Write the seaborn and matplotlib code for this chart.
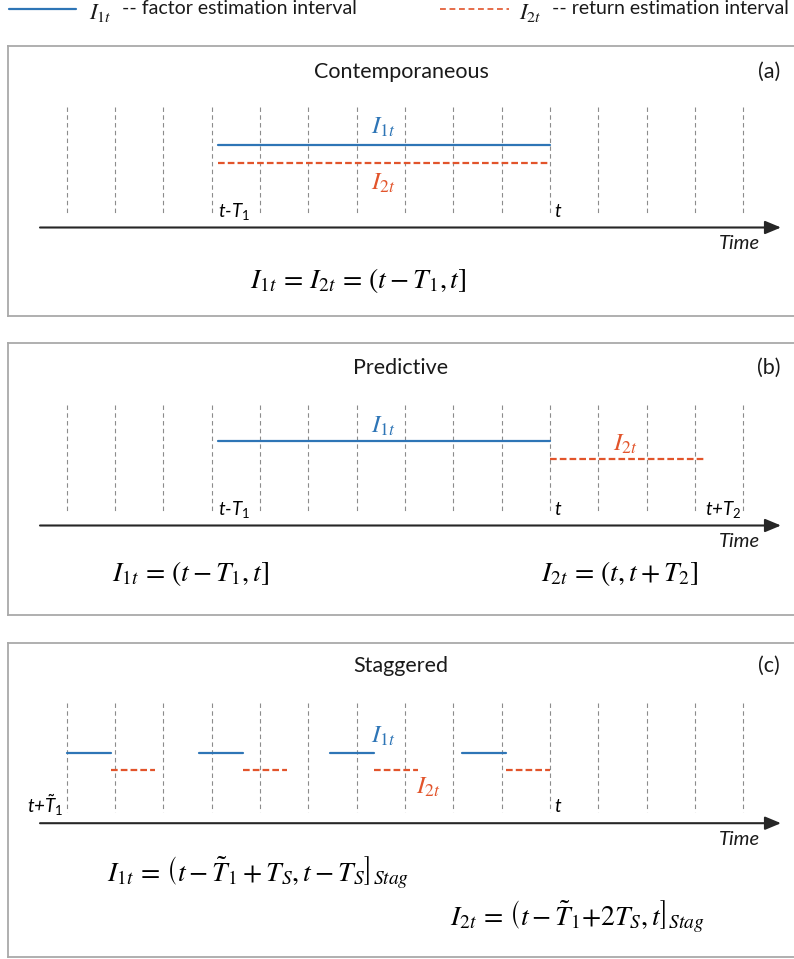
import matplotlib
matplotlib.use("Agg")
import matplotlib.pyplot as plt
import pandas as pd
import seaborn as sns

# ---------------- data ----------------
time_steps = list(range(15))                 # discrete periods (grid)
contemp_factor = [3.14, 10.0]                # I1t in (a)
contemp_return = [3.14, 10.0]                # I2t in (a)
pred_factor = [3.14, 10.0]                   # I1t in (b)
pred_return = [10.0, 13.23]                  # I2t in (b)
stag_factor_start = [0.0, 2.73, 5.45, 8.18]  # I1t pieces in (c)
stag_factor_end = [0.91, 3.64, 6.36, 9.09]
stag_return_start = [0.91, 3.64, 6.36, 9.09] # I2t pieces in (c)
stag_return_end = [1.82, 4.55, 7.27, 10.0]

panel_titles = ["Contemporaneous", "Predictive", "Staggered"]
panel_tags = ["(a)", "(b)", "(c)"]
legend_symbols = [r"$I_{1t}$", r"$I_{2t}$"]
legend_labels = ["-- factor estimation interval", "-- return estimation interval"]

# ---------------- style ----------------
sns.set_theme(style="white")
plt.rcParams["font.family"] = ["Lato", "DejaVu Sans"]
plt.rcParams["mathtext.fontset"] = "custom"
plt.rcParams["mathtext.rm"] = "Lato"
plt.rcParams["mathtext.it"] = "Lato:italic"
plt.rcParams["mathtext.bf"] = "Lato:bold"
plt.rcParams["mathtext.sf"] = "Lato"
plt.rcParams["mathtext.fallback"] = "stixsans"

BLUE = "#2e75b6"
ORANGE = "#e2542b"
GRID = "#8c8c8c"
AXIS = "#262626"
BORDER = "#a9a9a9"
TXT = "#1a1a1a"
DASH = (0, (3.0, 1.4))
MATH_SIZE = 20
LABEL_SIZE = 18

W, H = 794, 959
fig = plt.figure(figsize=(W / 100, H / 100), dpi=100)

X0_PX, UNIT_PX = 66.7, 48.33   # pixel of period 0, pixels per period


def to_unit(px):
    return (px - X0_PX) / UNIT_PX


def add_px_axes(left, top, right, bottom):
    return fig.add_axes([left / W, 1 - bottom / H, (right - left) / W, (bottom - top) / H])


def seg_frame(starts, ends, y):
    rows = []
    for i, (s, e) in enumerate(zip(starts, ends)):
        rows.append({"x": s, "y": y, "seg": i})
        rows.append({"x": e, "y": y, "seg": i})
    return pd.DataFrame(rows)


def draw_segments(ax, starts, ends, y, color, dashed):
    df = seg_frame(starts, ends, y)
    kw = dict(linestyle=DASH) if dashed else {}
    sns.lineplot(data=df, x="x", y="y", units="seg", estimator=None, sort=False,
                 color=color, lw=1.6, ax=ax, legend=False, **kw)


def setup_panel(top, bottom, title, tag, grid_top, grid_bot, axis_y, title_y):
    ax = add_px_axes(8.3, top, 794, bottom)
    h = bottom - top
    ax.set_xlim(to_unit(8.3), to_unit(794))
    ax.set_ylim(h, 0)
    ax.set_xticks([])
    ax.set_yticks([])
    ax.set_xlabel("")
    ax.set_ylabel("")
    for name, sp in ax.spines.items():
        sp.set_color(BORDER)
        sp.set_linewidth(1.3)
        sp.set_visible(name != "right")
    ax.vlines(time_steps, grid_top, grid_bot, colors=GRID, linestyles=(0, (4, 3)), lw=0.8)
    ax.annotate("", xy=(to_unit(781), axis_y), xytext=(to_unit(40), axis_y),
                arrowprops=dict(arrowstyle="-|>,head_length=0.6,head_width=0.25",
                                color=AXIS, lw=1.5, shrinkA=0, shrinkB=0, mutation_scale=16))
    ax.text(to_unit(760), axis_y + 16, "Time", ha="right", va="center",
            fontsize=14.5, style="italic", color=TXT)
    ax.text(to_unit(401), title_y, title, ha="center", va="center", fontsize=15.5, color=TXT)
    ax.text(to_unit(769), title_y, tag, ha="center", va="center", fontsize=15.5, color=TXT)
    return ax


def tick_label(ax, x, y, s, ha="left", dx=0.1):
    ax.text(x + (dx if ha == "left" else -dx), y, s, ha=ha, va="center", fontsize=13.5,
            style="italic", color="black", math_fontfamily="custom")


def formula(ax, x, y, s, size=MATH_SIZE):
    ax.text(x, y, s, ha="center", va="center", fontsize=size, color="black",
            math_fontfamily="stix")


def sym(ax, x, y, s, color):
    ax.text(x, y, s, ha="center", va="center", fontsize=LABEL_SIZE, color=color,
            math_fontfamily="stix")


# ---------------- legend ----------------
lax = add_px_axes(0, 0, W, 30)
lax.set_xlim(0, W)
lax.set_ylim(30, 0)
lax.axis("off")
leg = pd.DataFrame({"x": [9, 76], "y": [8.5, 8.5]})
sns.lineplot(data=leg, x="x", y="y", color=BLUE, lw=1.6, ax=lax, legend=False)
leg2 = pd.DataFrame({"x": [440, 509], "y": [8.5, 8.5]})
sns.lineplot(data=leg2, x="x", y="y", color=ORANGE, lw=1.2, ax=lax, legend=False,
             linestyle=(0, (3.5, 2.2)))
lax.set_xlabel("")
lax.set_ylabel("")
lax.text(89, 12.5, legend_symbols[0], ha="left", va="center", fontsize=16.5, color=TXT,
         math_fontfamily="stix")
lax.text(122, 9, legend_labels[0], ha="left", va="center", fontsize=14, color=TXT)
lax.text(519, 12.5, legend_symbols[1], ha="left", va="center", fontsize=16.5, color=TXT,
         math_fontfamily="stix")
lax.text(552, 9, legend_labels[1], ha="left", va="center", fontsize=14, color=TXT)

# ---------------- panel (a) ----------------
ax = setup_panel(45.7, 315.7, panel_titles[0], panel_tags[0], 61.5, 169.5, 181.8, 26.5)
draw_segments(ax, [contemp_factor[0]], [contemp_factor[1]], 99.6, BLUE, False)
draw_segments(ax, [contemp_return[0]], [contemp_return[1]], 117.6, ORANGE, True)
sym(ax, to_unit(383), 82.0, r"$I_{1t}$", BLUE)
sym(ax, to_unit(383), 137.5, r"$I_{2t}$", ORANGE)
tick_label(ax, contemp_factor[0], 166, r"$t$-$T_{\mathit{1}}$", dx=0.0)
tick_label(ax, contemp_factor[1], 166, r"$t$", dx=0.08)
formula(ax, to_unit(358), 234.5, r"$I_{1t}\,=\,I_{2t}\,=\,(t - T_1, t]$")

# ---------------- panel (b) ----------------
ax = setup_panel(343.3, 615.0, panel_titles[1], panel_tags[1], 61.5, 169.5, 182.2, 25.0)
draw_segments(ax, [pred_factor[0]], [pred_factor[1]], 97.5, BLUE, False)
draw_segments(ax, [pred_return[0]], [pred_return[1]], 115.5, ORANGE, True)
sym(ax, to_unit(383), 83.0, r"$I_{1t}$", BLUE)
sym(ax, to_unit(625), 101.0, r"$I_{2t}$", ORANGE)
tick_label(ax, pred_factor[0], 166, r"$t$-$T_{\mathit{1}}$", dx=0.0)
tick_label(ax, pred_return[0], 166, r"$t$", dx=0.08)
tick_label(ax, pred_return[1], 166, r"$t$+$T_{\mathit{2}}$", dx=-0.02)
formula(ax, to_unit(191), 230.5, r"$I_{1t}\,=\,(t - T_1, t]$")
formula(ax, to_unit(620), 230.5, r"$I_{2t}\,=\,(t, t + T_2]$")

# ---------------- panel (c) ----------------
ax = setup_panel(642.7, 956.7, panel_titles[2], panel_tags[2], 60.5, 169.5, 180.5, 23.5)
draw_segments(ax, stag_factor_start, stag_factor_end, 110.0, BLUE, False)
draw_segments(ax, stag_return_start, stag_return_end, 127.3, ORANGE, True)
sym(ax, to_unit(383), 94.0, r"$I_{1t}$", BLUE)
sym(ax, to_unit(428), 144.5, r"$I_{2t}$", ORANGE)
tick_label(ax, stag_factor_start[0], 162.5, r"$t$+$\tilde{T}_{\mathit{1}}$", ha="right", dx=0.06)
tick_label(ax, stag_return_end[-1], 163.5, r"$t$", dx=0.08)
formula(ax, to_unit(258), 230.5,
        r"$I_{1t}\,=\,\left(t - \tilde{T}_1 + T_S, t - T_S\right]_{Stag}$")
formula(ax, to_unit(577), 274.5,
        r"$I_{2t}\,=\,\left(t - \tilde{T}_1{+}2T_S, t\right]_{Stag}$")

fig.savefig("out.png", dpi=100)
